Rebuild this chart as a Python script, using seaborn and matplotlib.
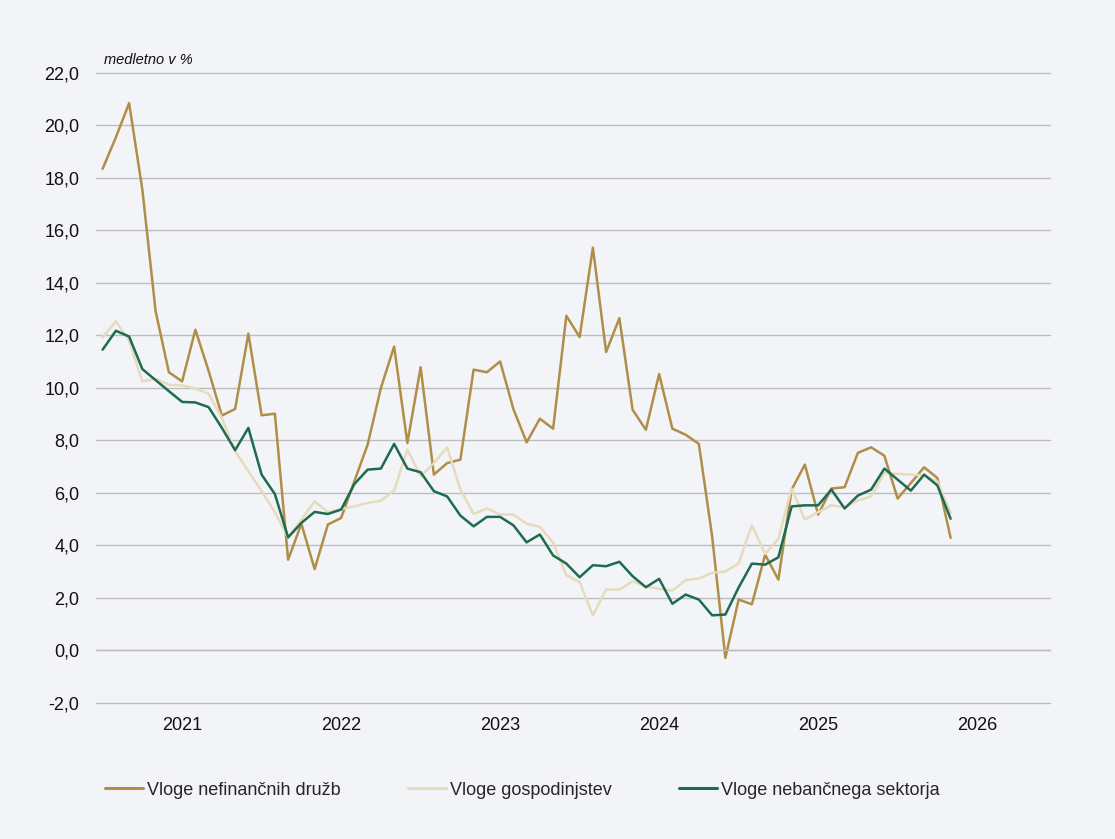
import numpy as np
import pandas as pd
import matplotlib
matplotlib.use("Agg")
import matplotlib.pyplot as plt
import seaborn as sns
from matplotlib.ticker import FuncFormatter

# monthly, Jul 2020 .. Nov 2025
nfc = [18.35, 19.55, 20.85, 17.55, 12.92, 10.6, 10.25, 12.22, 10.65, 8.95,
       9.2, 12.07, 8.96, 9.02, 3.46, 4.83, 3.1, 4.8, 5.05, 6.45,
       7.84, 10.0, 11.58, 7.9, 10.79, 6.7, 7.14, 7.27, 10.7, 10.6,
       11.01, 9.2, 7.93, 8.83, 8.45, 12.75, 11.94, 15.35, 11.37, 12.66,
       9.17, 8.41, 10.53, 8.45, 8.22, 7.87, 4.35, -0.28, 1.94, 1.76,
       3.65, 2.7, 6.13, 7.08, 5.18, 6.17, 6.22, 7.53, 7.74, 7.42,
       5.79, 6.38, 6.98, 6.57, 4.29]
households = [11.93, 12.54, 11.8, 10.25, 10.35, 10.12, 10.1, 9.98, 9.78, 8.86,
              7.59, 6.83, 6.07, 5.27, 4.29, 4.99, 5.68, 5.27, 5.39, 5.49,
              5.62, 5.71, 6.09, 7.65, 6.64, 7.14, 7.74, 6.13, 5.2, 5.41,
              5.18, 5.18, 4.83, 4.71, 4.1, 2.87, 2.61, 1.34, 2.32, 2.32,
              2.64, 2.45, 2.35, 2.28, 2.68, 2.74, 2.96, 3.01, 3.32, 4.77,
              3.68, 4.25, 6.17, 4.99, 5.27, 5.53, 5.46, 5.71, 5.87, 6.76,
              6.73, 6.7, 6.67, 6.44, 5.24]
nonbank = [11.46, 12.18, 11.96, 10.72, 10.3, 9.88, 9.47, 9.45, 9.27, 8.48,
           7.63, 8.48, 6.7, 5.96, 4.31, 4.86, 5.28, 5.2, 5.37, 6.34,
           6.89, 6.93, 7.87, 6.93, 6.79, 6.07, 5.87, 5.14, 4.73, 5.09,
           5.09, 4.77, 4.12, 4.42, 3.62, 3.31, 2.79, 3.25, 3.21, 3.38,
           2.83, 2.41, 2.73, 1.78, 2.13, 1.94, 1.34, 1.37, 2.4, 3.31,
           3.27, 3.55, 5.49, 5.53, 5.53, 6.13, 5.41, 5.9, 6.13, 6.93,
           6.51, 6.09, 6.7, 6.29, 5.02]
series_names = ["Vloge nefinančnih družb", "Vloge gospodinjstev", "Vloge nebančnega sektorja"]
colors = ["#B08E48", "#E6DBBE", "#1D6B50"]
years = ["2021", "2022", "2023", "2024", "2025", "2026"]
y_ticks = list(range(-2, 23, 2))

n = len(nfc)
df = pd.DataFrame({
    "month": np.tile(np.arange(n), 3),
    "value": nfc + households + nonbank,
    "series": np.repeat(series_names, n),
})

bg = "#F3F4F8"
sns.set_style("white", {"axes.facecolor": bg, "figure.facecolor": bg})
plt.rcParams["font.family"] = ["Liberation Sans", "DejaVu Sans"]

fig = plt.figure(figsize=(11.15, 8.39), dpi=100)
ax = fig.add_axes([0.0861, 0.1621, 0.8556, 0.7509])

sns.lineplot(data=df, x="month", y="value", hue="series", hue_order=series_names,
             palette=colors, linewidth=1.8, ax=ax, legend=False)

ax.set_xlim(-0.5, 71.5)
ax.set_ylim(-2, 22)
ax.set_yticks(y_ticks)
ax.yaxis.set_major_formatter(FuncFormatter(lambda v, p: f"{v:.1f}".replace(".", ",")))
ax.grid(axis="y", color="#BDBDBD", linewidth=1.0)
for gl in ax.get_ygridlines():
    gl.set_clip_on(False)
ax.set_axisbelow(True)
for s in ["top", "right", "left"]:
    ax.spines[s].set_visible(False)
ax.spines["bottom"].set_position(("data", 0))
ax.spines["bottom"].set_color("#BDBDBD")
ax.spines["bottom"].set_linewidth(1.0)
ax.set_xticks(np.arange(-0.5, 72, 12))
ax.tick_params(axis="x", length=6, width=1.0, color="#BDBDBD", labelbottom=False)
ax.tick_params(axis="y", length=0, pad=12, labelsize=13, labelcolor="#111111")
ax.set_xlabel("")
ax.set_ylabel("")

for k, yr in enumerate(years):
    ax.text(6 + 12 * k, -0.035, yr, transform=ax.get_xaxis_transform(),
            ha="center", va="center", fontsize=13, color="#111111")

ax.text(0.0084, 1.02, "medletno v %", transform=ax.transAxes, ha="left", va="center",
        fontsize=10.5, style="italic", color="#111111")

handles = [plt.Line2D([], [], color=c, linewidth=2.2) for c in colors]
fig.legend(handles, series_names, loc="center left", bbox_to_anchor=(0.094, 0.0584),
           ncol=3, frameon=False, fontsize=13, handlelength=2.1, handletextpad=0.25,
           columnspacing=3.7, borderpad=0, borderaxespad=0)

fig.savefig("out.png", dpi=100, facecolor=bg)
